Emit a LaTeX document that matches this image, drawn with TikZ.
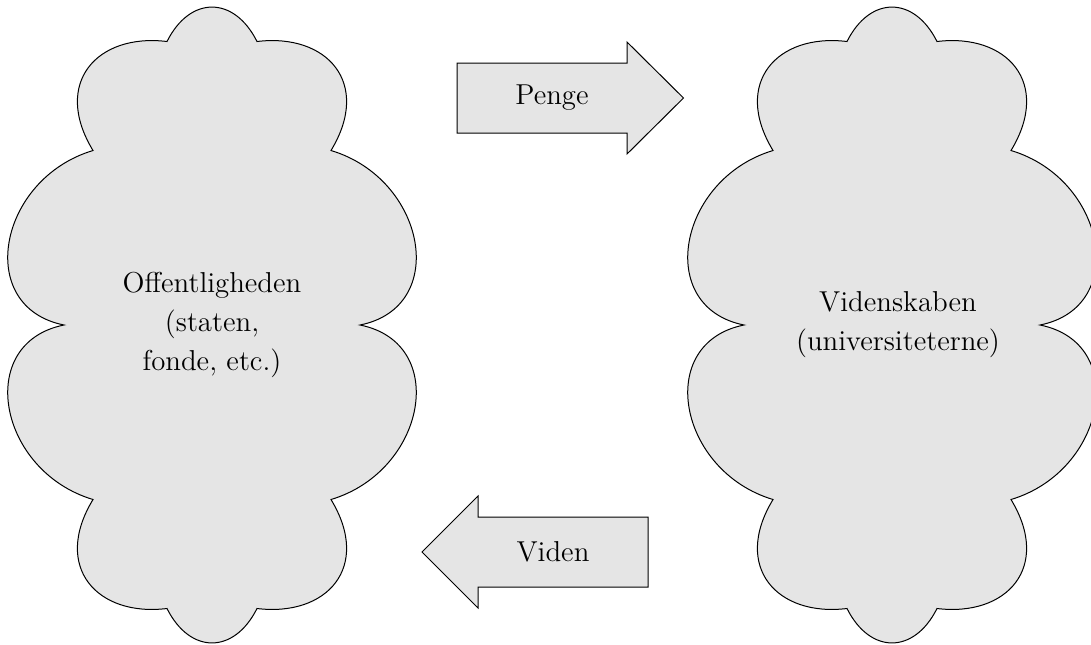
\documentclass[tikz,border=0pt]{standalone}
\begin{document}
\begin{tikzpicture}[x=0.5pt,y=-0.5pt,
		cloudshape/.style={draw=black,fill=gray!20,line width=0.5pt},
		bigarrow/.style={draw=black,fill=gray!20,line width=0.5pt,line join=miter},
		txt/.style={font=\fontsize{14.4}{19.5}\selectfont,align=center}]
	\useasboundingbox(0,0)rectangle(1091,644);
	\foreach \cx in {212,892}
		\draw[cloudshape,shift={(\cx,325)}](-45,-283.5)
			.. controls (-22,-329.4) and (22,-329.4) .. (45,-283.5)
			.. controls (115,-292) and (160,-242) .. (119,-174.5)
			.. controls (214,-146) and (238,-18) .. (148,0)
			.. controls (238,18) and (214,146) .. (119,174.5)
			.. controls (160,242) and (115,292) .. (45,283.5)
			.. controls (22,329.4) and (-22,329.4) .. (-45,283.5)
			.. controls (-115,292) and (-160,242) .. (-119,174.5)
			.. controls (-214,146) and (-238,18) .. (-148,0)
			.. controls (-238,-18) and (-214,-146) .. (-119,-174.5)
			.. controls (-160,-242) and (-115,-292) .. (-45,-283.5)--cycle;
	\draw[bigarrow](457,63)--(627,63)--(627,42)--(683.5,98)--(627,154)--(627,133)--(457,133)--cycle;
	\draw[bigarrow](648,517)--(478,517)--(478,496)--(422,552)--(478,608)--(478,587)--(648,587)--cycle;
	\node[txt](offentlighed)at(212,325){Offentligheden\\(staten,\\fonde, etc.)};
	\node[txt](videnskab)at(898,325){Videnskaben\\(universiteterne)};
	\node[txt](penge)at(552,98){Penge};
	\node[txt](viden)at(553,552){Viden};
\end{tikzpicture}
\end{document}
